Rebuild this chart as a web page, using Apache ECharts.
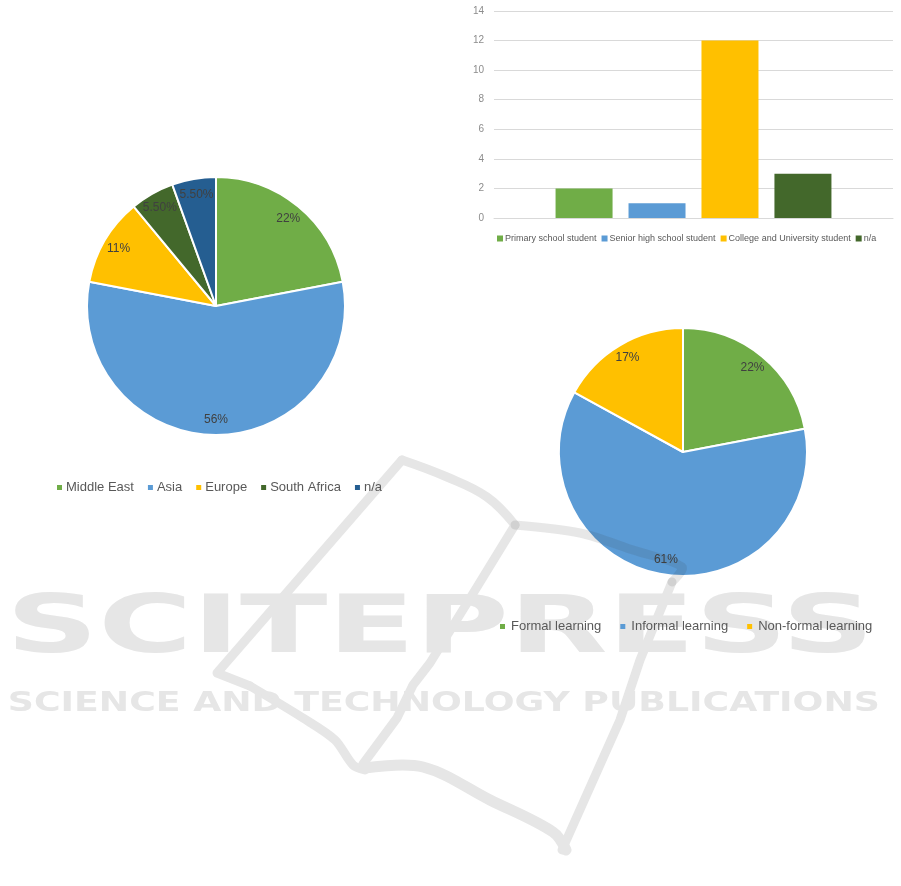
<!DOCTYPE html>
<html><head><meta charset="utf-8">
<script src="https://cdn.jsdelivr.net/npm/echarts@6/dist/echarts.min.js"></script>
<style>html,body{margin:0;padding:0;background:#fff}#c{width:901px;height:886px}</style>
</head><body><div id="c"></div>
<script>
// ---- data ----
const regionNames = ['Middle East', 'Asia', 'Europe', 'South Africa', 'n/a'];
const regionValues = [22, 56, 11, 5.5, 5.5];
const regionColors = ['#70AD47', '#5B9BD5', '#FFC000', '#43682B', '#255E91'];

const levelNames = ['Primary school student', 'Senior high school student', 'College and University student', 'n/a'];
const levelValues = [2, 1, 12, 3];
const levelColors = ['#70AD47', '#5B9BD5', '#FFC000', '#43682B'];
const yTicks = { min: 0, max: 14, interval: 2 };

const learnNames = ['Formal learning', 'Informal learning', 'Non-formal learning'];
const learnValues = [22, 61, 17];
const learnColors = ['#70AD47', '#5B9BD5', '#FFC000'];

const wmTitle = 'SCITEPRESS';
const wmSub = 'SCIENCE AND TECHNOLOGY PUBLICATIONS';

const FONT = "'Liberation Sans', Arial, sans-serif";
const pctFmt = v => (Number.isInteger(v) ? v : v.toFixed(2)) + '%';

const chart = echarts.init(document.getElementById('c'), null, { renderer: 'canvas' });

function mkPie(names, values, colors, center, r) {
  const data = names.map((n, i) => ({ name: n, value: values[i], itemStyle: { color: colors[i] } }));
  return [
    {
      type: 'pie', center: center, radius: [0, r], startAngle: 90, clockwise: true,
      data: data, label: { show: false }, labelLine: { show: false },
      itemStyle: { borderColor: '#fff', borderWidth: 2 }, silent: true, animation: false
    },
    {
      type: 'pie', center: center, radius: [r * 0.71, r], startAngle: 90, clockwise: true,
      data: names.map((n, i) => ({ name: n, value: values[i] })),
      itemStyle: { color: 'rgba(0,0,0,0)', borderWidth: 0 },
      label: { show: true, position: 'inside', formatter: p => pctFmt(p.value), color: '#404040', fontSize: 12, fontFamily: FONT },
      labelLine: { show: false }, silent: true, animation: false, z: 3
    }
  ];
}

function measure(text, font) {
  const c = document.createElement('canvas').getContext('2d');
  c.font = font; return c.measureText(text).width;
}
const wmFont1 = "bold 80px 'DejaVu Sans'";
const wmFont2 = "bold 26px 'DejaVu Sans'";
const s1 = 868 / measure(wmTitle, wmFont1);
const s2 = 872 / measure(wmSub, wmFont2);
const wmColor = '#e6e6e6';
const wmLine = { stroke: wmColor, lineWidth: 9, fill: null, lineCap: 'round', lineJoin: 'round' };
const wmLineOver = { stroke: 'rgba(60,60,60,0.12)', lineWidth: 9, fill: null, lineCap: 'round', lineJoin: 'round' };

const barSeries = levelNames.map((n, i) => ({
  type: 'bar', name: n, data: [levelValues[i]], barWidth: 57, barGap: '28%',
  itemStyle: { color: levelColors[i] }, xAxisIndex: 0, yAxisIndex: 0, animation: false
}));

const legendItems = (names, colors) => names.map((n, i) => ({ name: n, itemStyle: { color: colors[i], borderWidth: 0 } }));

const option = {
  backgroundColor: '#fff',
  textStyle: { fontFamily: FONT },
  graphic: [
    { type: 'polyline', z: -5, shape: { points: [[402,460],[447,477],[487,497],[515,525]], smooth: 0.4 }, style: wmLine },
    { type: 'polyline', z: 100, shape: { points: [[515,525],[580,533],[633,550],[682,567],[672,582]], smooth: 0.3 }, style: wmLineOver },
    { type: 'polyline', z: -5, shape: { points: [[672,582],[640,660],[620,720],[562,850]] }, style: wmLine },
    { type: 'polyline', z: -5, shape: { points: [[402,460],[217,673],[250,686]] }, style: wmLine },
    { type: 'polyline', z: -5, shape: { points: [[250,686],[303,718],[335,740],[353,765],[365,770]], smooth: 0.3 }, style: wmLine },
    { type: 'polyline', z: -5, shape: { points: [[515,525],[477,587],[430,663],[413,685],[397,718],[363,764]] }, style: wmLine },
    { type: 'polyline', z: -5, shape: { points: [[365,768],[423,767],[490,800],[553,832],[566,850]], smooth: 0.35 }, style: Object.assign({}, wmLine, { lineWidth: 11 }) },
    { type: 'text', z: -4, x: 15, y: 631, scaleX: s1, originX: 15, style: { text: wmTitle, font: wmFont1, fill: wmColor, verticalAlign: 'middle', align: 'left' } },
    { type: 'text', z: -4, x: 13, y: 704, scaleX: s2, originX: 13, style: { text: wmSub, font: wmFont2, fill: wmColor, verticalAlign: 'middle', align: 'left' } }
  ],
  legend: [
    {
      data: legendItems(regionNames, regionColors),
      left: 57, top: 481, width: 500, padding: 0, icon: 'rect', itemWidth: 5, itemHeight: 5, itemGap: 14,
      textStyle: { color: '#595959', fontSize: 13, fontFamily: FONT, padding: [0, 0, 0, -1] }, selectedMode: false
    },
    {
      data: legendItems(levelNames, levelColors),
      left: 497, top: 234, width: 420, padding: 0, icon: 'rect', itemWidth: 6, itemHeight: 6, itemGap: 5,
      textStyle: { color: '#595959', fontSize: 9, fontFamily: FONT, padding: [0, 0, 0, -3] }, selectedMode: false
    },
    {
      data: legendItems(learnNames, learnColors),
      left: 500, top: 620, width: 420, padding: 0, icon: 'rect', itemWidth: 5, itemHeight: 5, itemGap: 19,
      textStyle: { color: '#595959', fontSize: 13, fontFamily: FONT, padding: [0, 0, 0, 1] }, selectedMode: false
    }
  ],
  grid: { left: 494, right: 8, top: 11, bottom: 668, containLabel: false },
  xAxis: {
    type: 'category', data: [''],
    axisLine: { lineStyle: { color: '#d9d9d9' } }, axisTick: { show: false }, axisLabel: { show: false }
  },
  yAxis: {
    type: 'value', min: yTicks.min, max: yTicks.max, interval: yTicks.interval,
    axisLine: { show: false }, axisTick: { show: false },
    axisLabel: { color: '#8c8c8c', fontSize: 10, margin: 10, fontFamily: FONT },
    splitLine: { lineStyle: { color: '#d9d9d9' } }
  },
  series: [
    ...mkPie(regionNames, regionValues, regionColors, [216, 306], 129),
    ...barSeries,
    ...mkPie(learnNames, learnValues, learnColors, [683, 452], 124)
  ]
};
chart.setOption(option);
</script></body></html>
